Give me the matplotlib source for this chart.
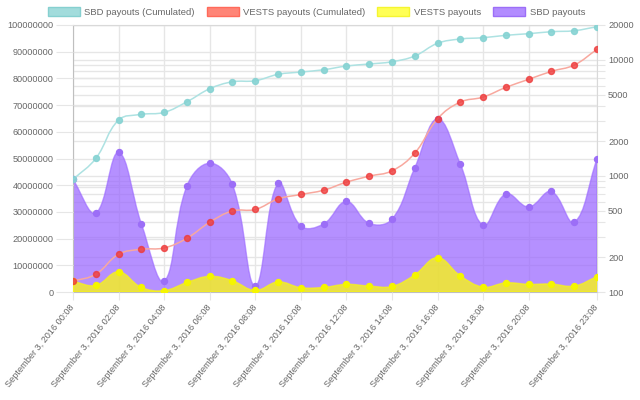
import numpy as np
import matplotlib.pyplot as plt
import matplotlib.transforms as mtransforms
from matplotlib.path import Path
from matplotlib.patches import PathPatch, Patch

plt.rcParams['font.family'] = ['Liberation Sans', 'DejaVu Sans']

# data (24 hourly points)
hours = list(range(24))
time_labels = ["September 3, 2016 %02d:08" % h for h in hours]
shown_ticks = [0, 2, 4, 6, 8, 10, 12, 14, 16, 18, 20, 23]

sbd_payouts = [933, 480, 1595, 389, 124, 821, 1289, 845, 113, 867, 371, 386,
               603, 391, 424, 1175, 3109, 1272, 376, 701, 541, 735, 399, 1404]
sbd_cumulated = [933, 1416, 3030, 3393, 3531, 4358, 5642, 6483, 6616, 7513, 7864, 8230,
                 8859, 9218, 9647, 10805, 13908, 15147, 15544, 16302, 16830, 17510, 17854, 19340]
vests_payouts = [4010000, 2500000, 7600000, 1750000, 550000, 3600000, 5900000, 4250000,
                 600000, 3800000, 1650000, 1750000, 2900000, 2250000, 2100000, 6450000,
                 12900000, 6100000, 1870000, 3450000, 2900000, 3000000, 2250000, 5800000]
vests_cumulated = [4010000, 6640000, 14140000, 16010000, 16500000, 20130000, 26130000, 30370000,
                   30900000, 34870000, 36520000, 38130000, 41130000, 43380000, 45370000, 52010000,
                   64870000, 71130000, 73000000, 76640000, 79640000, 82640000, 85000000, 90890000]

left_ticks = list(range(0, 100000001, 10000000))
right_ticks = [100, 200, 300, 400, 500, 600, 700, 800, 900,
               1000, 2000, 3000, 4000, 5000, 6000, 7000, 8000, 9000, 10000, 20000]
right_labels = ['100', '200', '', '', '500', '', '', '', '',
                '1000', '2000', '', '', '5000', '', '', '', '', '10000', '20000']

GRID = '#e6e6e6'
TXT = '#666666'


def smooth(axis, xs, ys, tension=0.4):
    # chart.js style spline, control points computed in pixel space
    pts = axis.transData.transform(np.column_stack([xs, ys]).astype(float))
    n = len(pts)
    bb = axis.bbox
    lo, hi = [bb.x0, bb.y0], [bb.x1, bb.y1]
    prev_cp, next_cp = [], []
    for i in range(n):
        p0, p1, p2 = pts[max(i - 1, 0)], pts[i], pts[min(i + 1, n - 1)]
        d01 = np.hypot(*(p1 - p0))
        d12 = np.hypot(*(p2 - p1))
        tot = d01 + d12
        s01 = d01 / tot if tot else 0.0
        s12 = d12 / tot if tot else 0.0
        prev_cp.append(np.clip(p1 - tension * s01 * (p2 - p0), lo, hi))
        next_cp.append(np.clip(p1 + tension * s12 * (p2 - p0), lo, hi))
    verts = [pts[0]]
    codes = [Path.MOVETO]
    for i in range(1, n):
        verts += [next_cp[i - 1], prev_cp[i], pts[i]]
        codes += [Path.CURVE4] * 3
    return list(axis.transData.inverted().transform(np.array(verts))), codes


def filled(axis, xs, ys, base):
    verts, codes = smooth(axis, xs, ys)
    verts += [(xs[-1], base), (xs[0], base), (xs[0], base)]
    codes += [Path.LINETO, Path.LINETO, Path.CLOSEPOLY]
    return Path(verts, codes)


fig = plt.figure(figsize=(6.4, 4.0), dpi=100)
rect = [73 / 640, 1 - 292 / 400, (597 - 73) / 640, (292 - 25) / 400]
ax2 = fig.add_axes(rect)            # right, log axis (SBD)
ax = fig.add_axes(rect)             # left, linear axis (VESTS)
ax2.set_zorder(1)
ax.set_zorder(2)
ax.patch.set_visible(False)

for a in (ax, ax2):
    a.set_xlim(0, 23)
ax.set_ylim(0, 100000000)
ax2.set_yscale('log')
ax2.set_ylim(100, 20000)

# background grid on the lower axes
ax2.set_xticks(shown_ticks)
ax2.tick_params(axis='x', bottom=False, labelbottom=False)
ax2.grid(axis='x', color=GRID, lw=1)
ax2.yaxis.tick_right()
ax2.set_yticks(right_ticks)
ax2.yaxis.set_minor_locator(plt.NullLocator())
ax2.set_yticklabels(right_labels)
ax2.grid(axis='y', color=GRID, lw=1)
blend = mtransforms.blended_transform_factory(ax2.transAxes, ax.transData)
for v in left_ticks:
    ax2.plot([0, 1], [v, v], color=GRID, lw=1, transform=blend, zorder=0.5)
ax2.tick_params(axis='y', which='both', length=6, color=GRID, colors=TXT,
                labelsize=6.6, pad=2, labelcolor=TXT)
for s in ax2.spines.values():
    s.set_color('#d9d9d9')
ax2.spines['left'].set_color('#bfbfbf')
ax2.spines['bottom'].set_color('#bfbfbf')

ax.set_yticks(left_ticks)
ax.set_yticklabels([str(v) for v in left_ticks])
ax.tick_params(axis='y', length=12, color=GRID, labelcolor=TXT, labelsize=6.6, pad=2)
ax.set_xticks(shown_ticks)
ax.set_xticklabels([time_labels[i] for i in shown_ticks], rotation=51,
                   ha='right', va='center', rotation_mode='anchor')
ax.tick_params(axis='x', length=6, color=GRID, labelcolor=TXT, labelsize=6.6, pad=4)
for s in ax.spines.values():
    s.set_visible(False)

# SBD payouts (purple area) on log axis
ax2.add_patch(PathPatch(filled(ax2, hours, sbd_payouts, 100),
                        facecolor=(153/255, 102/255, 1, 0.72), edgecolor=(153/255, 102/255, 1, 0.6),
                        lw=1, zorder=2))
ax2.plot(hours, sbd_payouts, 'o', ms=4.3, color='#9c6ef7', mec='#9c6ef7', zorder=3)

# SBD cumulated (cyan line)
v, c = smooth(ax2, hours, sbd_cumulated)
ax2.add_patch(PathPatch(Path(v, c), fill=False, edgecolor='#ade2e2', lw=1.1, zorder=4))
ax2.plot(hours, sbd_cumulated, 'o', ms=4.3, color='#86d3d3', alpha=0.9, zorder=5)

# VESTS payouts (yellow area) on linear axis
ax.add_patch(PathPatch(filled(ax, hours, vests_payouts, 0),
                       facecolor=(1, 1, 0, 0.72), edgecolor=(1, 1, 0, 0.6), lw=1, zorder=2))
ax.plot(hours, vests_payouts, 'o', ms=4.3, color='#f5f500', zorder=3)

# VESTS cumulated (red line)
v, c = smooth(ax, hours, vests_cumulated)
ax.add_patch(PathPatch(Path(v, c), fill=False, edgecolor='#f8a89e', lw=1.1, zorder=4))
ax.plot(hours, vests_cumulated, 'o', ms=4.3, color='#ee3b3b', alpha=0.8, zorder=5)

handles = [
    Patch(facecolor='#a2dcdc', edgecolor='#86d0d0', label='SBD payouts (Cumulated)'),
    Patch(facecolor='#ff8577', edgecolor='#ff6a5a', label='VESTS payouts (Cumulated)'),
    Patch(facecolor='#ffff55', edgecolor='#f5f530', label='VESTS payouts'),
    Patch(facecolor='#b28cff', edgecolor='#9c6ef7', label='SBD payouts'),
]
leg = fig.legend(handles=handles, loc='center', bbox_to_anchor=(316.5 / 640, 1 - 12.3 / 400),
                 ncol=4, frameon=False, fontsize=6.8, handlelength=3.37, handleheight=1.05,
                 handletextpad=0.5, columnspacing=1.26, borderpad=0)
for t in leg.get_texts():
    t.set_color(TXT)

fig.savefig('out.png', dpi=100)
